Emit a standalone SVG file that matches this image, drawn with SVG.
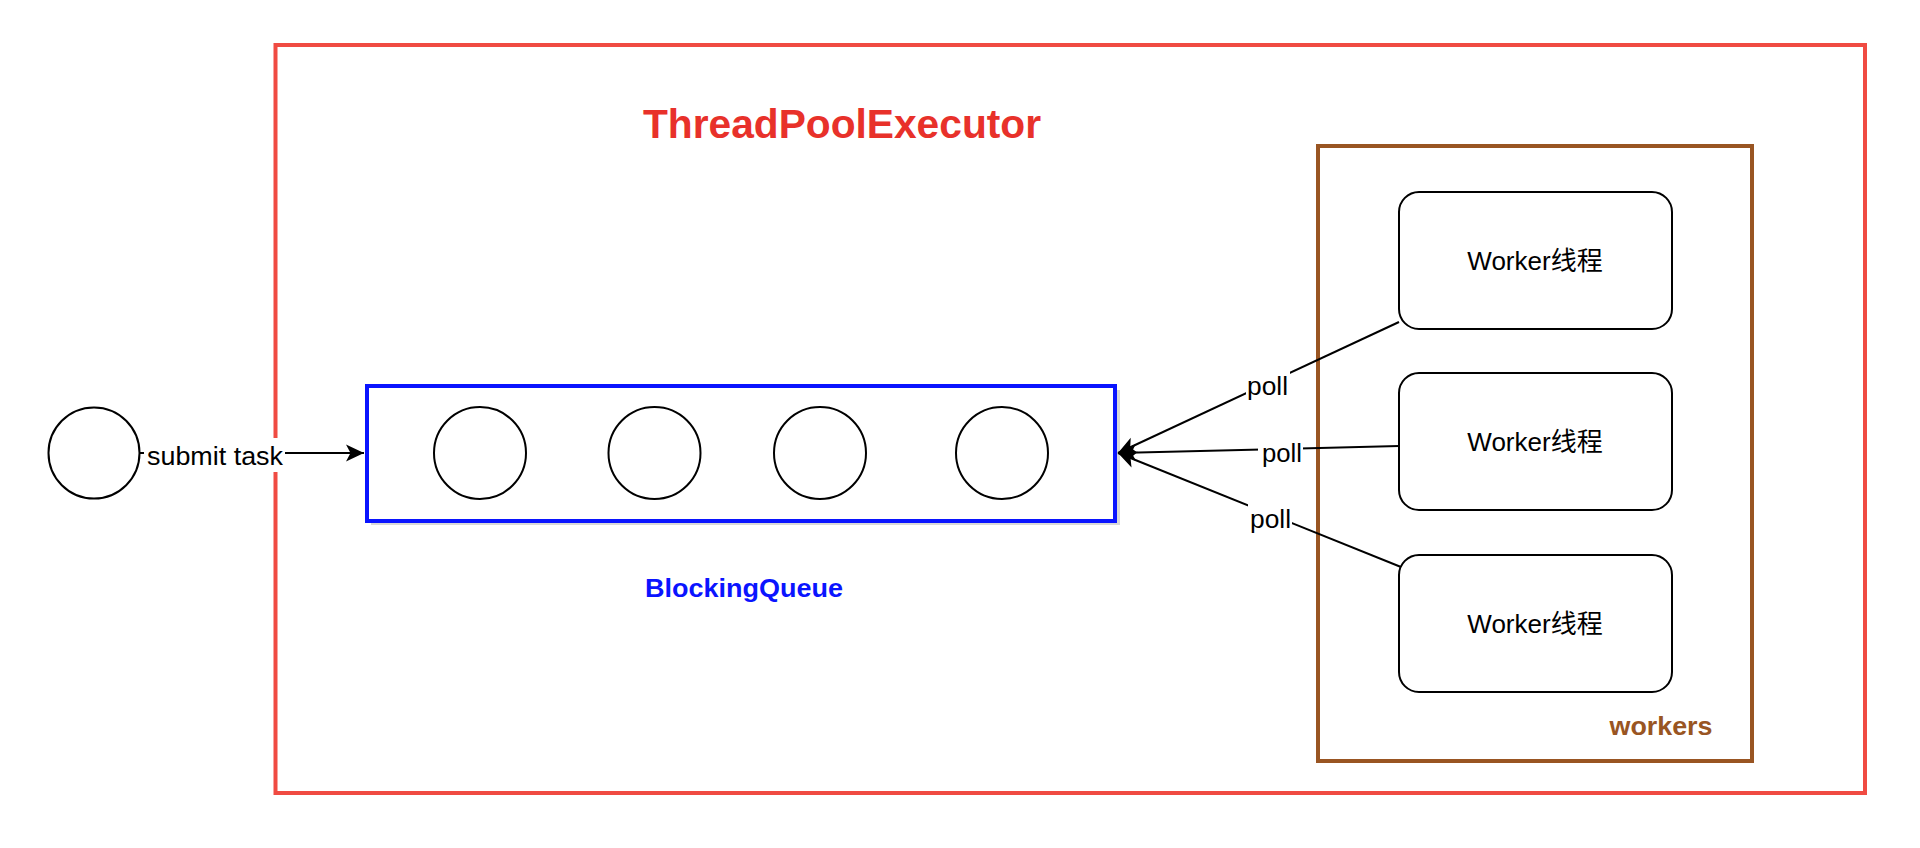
<svg xmlns="http://www.w3.org/2000/svg" width="1920" height="848" viewBox="0 0 1920 848">
<style>
  .txt { font-family: "Liberation Sans", Arial, "Noto Sans CJK SC", sans-serif; font-size: 26px; fill: #000; }
  .bold { font-weight: bold; }
  .line { stroke: #000; stroke-width: 2; fill: none; }
  .circ { stroke: #000; stroke-width: 2; fill: #fff; }
  .wbox { stroke: #000; stroke-width: 2; fill: #fff; }
  .bg { fill: #fff; }
</style>
<defs>
  <marker id="arrow" markerUnits="userSpaceOnUse" viewBox="-20 -10 22 20" refX="0" refY="0" markerWidth="22" markerHeight="20" orient="auto">
    <path d="M0,0 L-18,-8.5 L-13.5,0 L-18,8.5 Z" fill="#000"/>
  </marker>
</defs>
<rect width="1920" height="848" fill="#fff"/>

<g id="threadpoolexecutor">
  <rect x="275.5" y="45" width="1589.5" height="748" fill="none" stroke="#f04b42" stroke-width="4"/>
  <text class="txt bold" x="842" y="138" text-anchor="middle" style="font-size:40px;fill:#e8312a" textLength="398" lengthAdjust="spacingAndGlyphs">ThreadPoolExecutor</text>
</g>

<g id="workers">
  <rect x="1318" y="146" width="434" height="615" fill="none" stroke="#995522" stroke-width="4"/>
  <text class="txt bold" x="1661" y="735" text-anchor="middle" style="fill:#995522" textLength="103" lengthAdjust="spacingAndGlyphs">workers</text>
</g>

<g id="task">
  <circle class="circ" cx="94" cy="453" r="45.5"/>
</g>

<g id="blockingqueue">
  <rect x="371" y="390" width="749" height="135" fill="#c8c8c8" opacity="0.7"/>
  <rect x="367" y="386" width="748" height="135" fill="#fff" stroke="#0a14ff" stroke-width="4"/>
  <circle class="circ" cx="480" cy="453" r="46"/>
  <circle class="circ" cx="654.5" cy="453" r="46"/>
  <circle class="circ" cx="820" cy="453" r="46"/>
  <circle class="circ" cx="1002" cy="453" r="46"/>
  <text class="txt bold" x="744" y="597" text-anchor="middle" style="fill:#0a14ff" textLength="198" lengthAdjust="spacingAndGlyphs">BlockingQueue</text>
</g>

<g id="worker1">
  <rect class="wbox" x="1399" y="192" width="273" height="137" rx="20" ry="20"/>
  <text class="txt" x="1535" y="270" text-anchor="middle">Worker线程</text>
</g>
<g id="worker2">
  <rect class="wbox" x="1399" y="373" width="273" height="137" rx="20" ry="20"/>
  <text class="txt" x="1535" y="451" text-anchor="middle">Worker线程</text>
</g>
<g id="worker3">
  <rect class="wbox" x="1399" y="555" width="273" height="137" rx="20" ry="20"/>
  <text class="txt" x="1535" y="633" text-anchor="middle">Worker线程</text>
</g>

<g id="connectors">
  <line class="line" x1="139.5" y1="453" x2="364" y2="453" marker-end="url(#arrow)"/>
  <rect class="bg" x="144" y="438" width="141" height="34"/>
  <text class="txt" x="147" y="465" textLength="136" lengthAdjust="spacingAndGlyphs">submit task</text>

  <line class="line" x1="1399" y1="322" x2="1118" y2="453" marker-end="url(#arrow)"/>
  <line class="line" x1="1399" y1="446" x2="1118" y2="453" marker-end="url(#arrow)"/>
  <line class="line" x1="1401" y1="567" x2="1118" y2="453" marker-end="url(#arrow)"/>

  <rect class="bg" x="1246" y="371" width="44" height="28"/>
  <text class="txt" x="1247" y="395" textLength="41" lengthAdjust="spacingAndGlyphs">poll</text>
  <rect class="bg" x="1258" y="437" width="45" height="28"/>
  <text class="txt" x="1262" y="462" textLength="40" lengthAdjust="spacingAndGlyphs">poll</text>
  <rect class="bg" x="1248" y="503" width="44" height="28"/>
  <text class="txt" x="1250" y="528" textLength="41" lengthAdjust="spacingAndGlyphs">poll</text>
</g>
</svg>
